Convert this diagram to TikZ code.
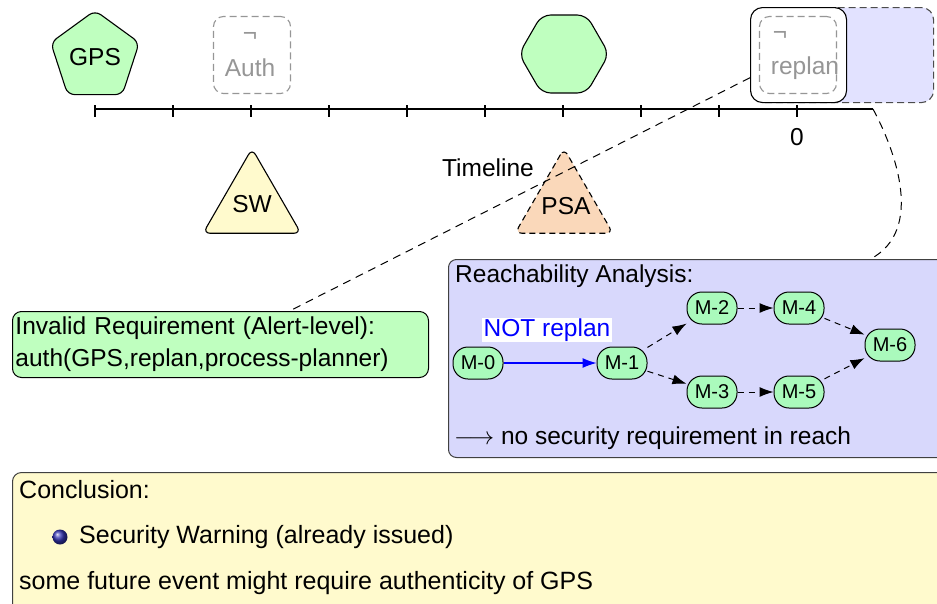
\documentclass[tikz,border=0pt]{standalone}
\usepackage{fontspec}
\setmainfont{Liberation Sans}
\usetikzlibrary{shapes.geometric,arrows.meta}

\definecolor{softgreen}{RGB}{191,255,191}
\definecolor{mintgreen}{RGB}{170,250,188}
\definecolor{paleyellow}{RGB}{255,250,205}
\definecolor{peach}{RGB}{250,216,186}
\definecolor{lavender}{RGB}{216,216,252}
\definecolor{palelavender}{RGB}{226,226,255}
\definecolor{ghostgray}{RGB}{150,150,150}
\definecolor{ballblue}{RGB}{51,51,179}

\tikzset{
  shapebox/.style={draw, line width=1.1pt},
  ghostbox/.style={draw=ghostgray, line width=1.1pt, dash pattern=on 7pt off 4pt,
    rounded corners=10pt, minimum width=77pt, minimum height=77pt, inner sep=0pt},
  ghosttext/.style={text=ghostgray, inner sep=0pt},
  mstate/.style={draw, line width=1pt, fill=mintgreen, rounded corners=15pt,
    minimum width=50pt, minimum height=32pt, inner sep=1pt,
    font=\fontsize{20}{22}\selectfont},
  flow/.style={line width=1pt, dash pattern=on 6pt off 5pt,
    -{Latex[length=14pt,width=10pt]}},
  plain/.style={inner sep=0pt},
  link/.style={line width=1pt, dash pattern=on 8pt off 6pt},
}

\begin{document}
\begin{tikzpicture}[x=1pt,y=-1pt,font=\fontsize{24.5}{32}\selectfont]
\clip (0,0) rectangle (937,603);

% timeline axis with ticks
\coordinate (tlstart) at (95,109);
\coordinate (tlend) at (873,109);
\draw[line width=1.1pt] (tlstart) -- (tlend);
\foreach \k in {0,...,9} {
  \draw[line width=1.1pt] (95+78*\k,105) -- (95+78*\k,117);
}
\node[plain] (zero) at (797,137) {0};
\node[plain] (tllabel) at (488,168) {Timeline};

% events above the timeline
\node[shapebox, regular polygon, regular polygon sides=5, fill=softgreen,
  minimum size=93pt, rounded corners=7pt, inner sep=0pt] (gps) at (95,57) {GPS};
\node[ghostbox] (auth) at (252,55) {};
\node[ghosttext] (authneg) at (250,37) {¬};
\node[ghosttext] (authtxt) at (250,68) {Auth};
\node[shapebox, regular polygon, regular polygon sides=6, fill=softgreen,
  minimum size=90pt, rounded corners=9pt, inner sep=0pt] (hex) at (564,54) {};

% current event: replan
\node[draw=black!70, line width=1.1pt, dash pattern=on 7pt off 4pt, fill=palelavender,
  rounded corners=12pt, minimum width=180pt, minimum height=95pt, inner sep=0pt,
  anchor=north west] (future) at (753,7) {};
\node[draw, line width=1.1pt, fill=white, rounded corners=12pt,
  minimum width=96pt, minimum height=95pt, inner sep=0pt,
  anchor=north west] (replanbox) at (750,7) {};
\node[ghostbox] (replanin) at (798,55) {};
\node[ghosttext] (replanneg) at (780,36) {¬};
\node[ghosttext] (replantxt) at (805,68) {replan};

% events below the timeline
\node[shapebox, regular polygon, regular polygon sides=3, fill=paleyellow,
  minimum size=113pt, rounded corners=7pt, inner sep=0pt] (sw) at (252,205) {};
\node[plain] (swtxt) at (252,204) {SW};
\node[shapebox, regular polygon, regular polygon sides=3, fill=peach,
  dash pattern=on 6pt off 4pt,
  minimum size=113pt, rounded corners=7pt, inner sep=0pt] (psa) at (564,205) {};
\node[plain] (psatxt) at (566,206) {PSA};

% violated requirement
\node[draw, line width=1pt, fill=softgreen, rounded corners=9pt, anchor=north west,
  text width=410pt, align=left, inner xsep=3pt, inner ysep=0pt,
  minimum height=66pt] (invalid) at (12,311)
  {Invalid Requirement (Alert-level):\\auth(GPS,replan,process-planner)};

% reachability analysis panel
\node[draw=black!75, line width=1pt, fill=lavender, rounded corners=8pt,
  anchor=north west, minimum width=520pt, minimum height=198pt,
  inner sep=0pt] (reach) at (448,259) {};
\node[plain, anchor=west] (reachtitle) at (455,276) {Reachability Analysis:};
\node[plain, anchor=west] (reachnote) at (454,438)
  {$\longrightarrow$ no security requirement in reach};

\node[mstate] (m0) at (478,363) {M-0};
\node[mstate] (m1) at (622,363) {M-1};
\node[mstate] (m2) at (712,308) {M-2};
\node[mstate] (m3) at (712,392) {M-3};
\node[mstate] (m4) at (799,308) {M-4};
\node[mstate] (m5) at (799,392) {M-5};
\node[mstate] (m6) at (890,345) {M-6};

\draw[blue, line width=1.1pt, -{Latex[length=14pt,width=10pt]}] (m0) -- (m1);
\node[fill=white, text=blue, inner xsep=2pt, inner ysep=1pt] (notreplan) at (547,330) {NOT replan};
\draw[flow] (m1) -- (m2);
\draw[flow] (m1) -- (m3);
\draw[flow] (m2) -- (m4);
\draw[flow] (m3) -- (m5);
\draw[flow] (m4) -- (m6);
\draw[flow] (m5) -- (m6);

% links between timeline and analysis
\draw[link] (replanbox.205) -- ([xshift=69pt]invalid.north);
\draw[link] (tlend) .. controls (895,150) and (925,230) .. ([xshift=162pt]reach.north);

% conclusion panel
\node[draw=black!75, line width=1pt, fill=paleyellow, rounded corners=9pt,
  anchor=north west, minimum width=960pt, minimum height=160pt,
  inner sep=0pt] (concl) at (12,472) {};
\begin{scope}[font=\fontsize{25}{30}\selectfont]
\node[plain, anchor=west] (concltitle) at (19,490) {Conclusion:};
\shade[ball color=ballblue] (60,537) circle (7.5pt);
\node[plain, anchor=west] (warning) at (79,537) {Security Warning (already issued)};
\node[plain, anchor=west] (futuretxt) at (19,583) {some future event might require authenticity of GPS};
\end{scope}
\end{tikzpicture}
\end{document}
